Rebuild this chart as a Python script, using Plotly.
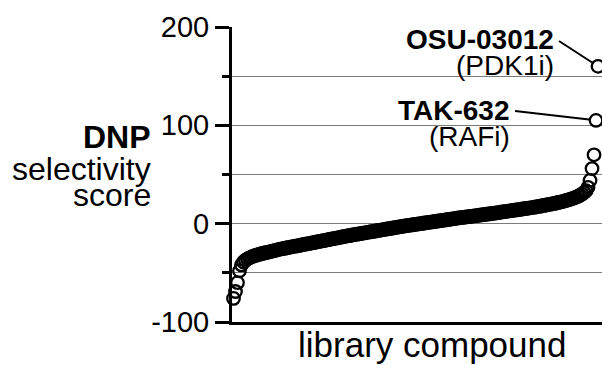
import plotly.graph_objects as go

# DNP selectivity score for each library compound, sorted from lowest to highest
scores = [
    -76, -69, -60, -48, -42, -39, -37.2, -35.8, -34.7, -33.8,
    -33.0, -32.3, -31.7, -31.1, -30.6, -30.1, -29.6, -29.1, -28.6, -28.1,
    -27.6, -27.1, -26.6, -26.1, -25.7, -25.3, -24.9, -24.5, -24.1, -23.7,
    -23.3, -22.9, -22.5, -22.1, -21.7, -21.3, -20.9, -20.5, -20.1, -19.7,
    -19.3, -18.9, -18.5, -18.1, -17.7, -17.3, -16.9, -16.5, -16.1, -15.7,
    -15.3, -14.9, -14.5, -14.1, -13.7, -13.3, -12.9, -12.5, -12.2, -11.8,
    -11.4, -11.0, -10.7, -10.3, -10.0, -9.6, -9.3, -8.9, -8.6, -8.2,
    -7.9, -7.5, -7.2, -6.8, -6.5, -6.1, -5.8, -5.4, -5.1, -4.7,
    -4.4, -4.0, -3.7, -3.3, -3.0, -2.7, -2.3, -2.0, -1.7, -1.4,
    -1.1, -0.8, -0.5, -0.2, 0.1, 0.4, 0.7, 1.0, 1.3, 1.6,
    1.9, 2.2, 2.5, 2.8, 3.1, 3.4, 3.7, 4.0, 4.3, 4.6,
    4.9, 5.2, 5.5, 5.8, 6.1, 6.3, 6.6, 6.9, 7.1, 7.4,
    7.7, 7.9, 8.2, 8.5, 8.8, 9.0, 9.3, 9.6, 9.9, 10.1,
    10.4, 10.7, 11.0, 11.3, 11.6, 11.9, 12.2, 12.5, 12.8, 13.1,
    13.4, 13.7, 14.0, 14.3, 14.6, 14.9, 15.2, 15.5, 15.8, 16.1,
    16.4, 16.8, 17.1, 17.5, 17.8, 18.2, 18.6, 19.0, 19.4, 19.8,
    20.2, 20.6, 21.0, 21.5, 22.0, 22.5, 23.0, 23.6, 24.2, 24.8,
    25.5, 26.2, 27.0, 27.9, 28.9, 30.1, 31.6, 33.5, 37, 44,
    56, 70, 105, 160,
]
ranks = list(range(1, len(scores) + 1))

# highlighted hits: (name, target class, rank)
hits = [
    ("OSU-03012", "(PDK1i)", len(scores)),
    ("TAK-632", "(RAFi)", len(scores) - 1),
]

y_ticks = [-100, 0, 100, 200]

W, H = 602, 365
L, R, T, B = 232, 0, 27, 43
plot_w = W - L - R
plot_h = H - T - B

# x range: first compound just right of the axis, last one near the right edge
n = len(scores)
step = (598 - 233.5) / (n - 1)
x0 = 1 - 1.5 / step
x1 = x0 + plot_w / step

FONT = "Liberation Sans, Arial, Helvetica, sans-serif"


def px_x(p):
    return (p - L) / plot_w


def px_y(p):
    return (H - B - p) / plot_h


fig = go.Figure()
fig.add_trace(go.Scatter(
    x=ranks, y=scores, mode="markers",
    marker=dict(symbol="circle-open", size=12.5, color="black",
                line=dict(width=2.3, color="black")),
    cliponaxis=False, hoverinfo="skip",
))

fig.update_layout(
    width=W, height=H,
    margin=dict(l=L, r=R, t=T, b=B, pad=0),
    paper_bgcolor="white", plot_bgcolor="white",
    showlegend=False,
    font=dict(family=FONT, color="black"),
    xaxis=dict(range=[x0, x1], showticklabels=False, ticks="",
               showgrid=False, zeroline=False,
               showline=True, linewidth=3, linecolor="black"),
    yaxis=dict(range=[-100, 200], tickmode="array", tickvals=y_ticks,
               ticktext=[str(v) for v in y_ticks],
               ticks="outside", ticklen=14, tickwidth=2.5, tickcolor="black",
               tickfont=dict(size=29, family=FONT, color="black"),
               showgrid=True, gridcolor="#7a7a7a", gridwidth=1,
               zeroline=False, showline=True, linewidth=3, linecolor="black",
               minor=dict(tickvals=[-50, 50, 150], ticks="outside", ticklen=7,
                          tickwidth=2.5, tickcolor="black", showgrid=True,
                          gridcolor="#7a7a7a", gridwidth=1)),
)

ann = []
# axis titles
ann.append(dict(text="library compound", x=px_x(432), y=px_y(344),
                xanchor="center", yanchor="middle", font=dict(size=35)))
ann.append(dict(text="<b>DNP</b>", x=px_x(153), y=px_y(137),
                xanchor="right", yanchor="middle", font=dict(size=32)))
ann.append(dict(text="selectivity", x=px_x(153), y=px_y(169),
                xanchor="right", yanchor="middle", font=dict(size=32)))
ann.append(dict(text="score", x=px_x(153), y=px_y(195),
                xanchor="right", yanchor="middle", font=dict(size=32)))

# hit labels
label_pos = {"OSU-03012": (556, 40, 65), "TAK-632": (512, 110, 136)}
for name, target, rk in hits:
    rx, y_name, y_target = label_pos[name]
    ann.append(dict(text=f"<b>{name}</b>", x=px_x(rx), y=px_y(y_name),
                    xanchor="right", yanchor="middle", font=dict(size=28)))
    ann.append(dict(text=target, x=px_x(rx), y=px_y(y_target),
                    xanchor="right", yanchor="middle", font=dict(size=28)))

for a in ann:
    a.update(xref="paper", yref="paper", showarrow=False)
fig.update_layout(annotations=ann)

# leader lines from each hit label to its point
for name, target, rk in hits:
    rx, y_name, _ = label_pos[name]
    val = scores[rk - 1]
    cx = L + (rk - x0) / (x1 - x0) * plot_w
    cy = T + (200 - val) / 300 * plot_h
    sx, sy = rx + 3, y_name + 1
    dx, dy = cx - sx, cy - sy
    d = (dx * dx + dy * dy) ** 0.5
    ex, ey = cx - 7 * dx / d, cy - 7 * dy / d
    fig.add_shape(type="line", xref="x", yref="y",
                  xsizemode="pixel", ysizemode="pixel",
                  xanchor=rk, yanchor=val,
                  x0=sx - cx, y0=cy - sy, x1=ex - cx, y1=cy - ey,
                  line=dict(color="black", width=2))

fig.write_html("out.html")
